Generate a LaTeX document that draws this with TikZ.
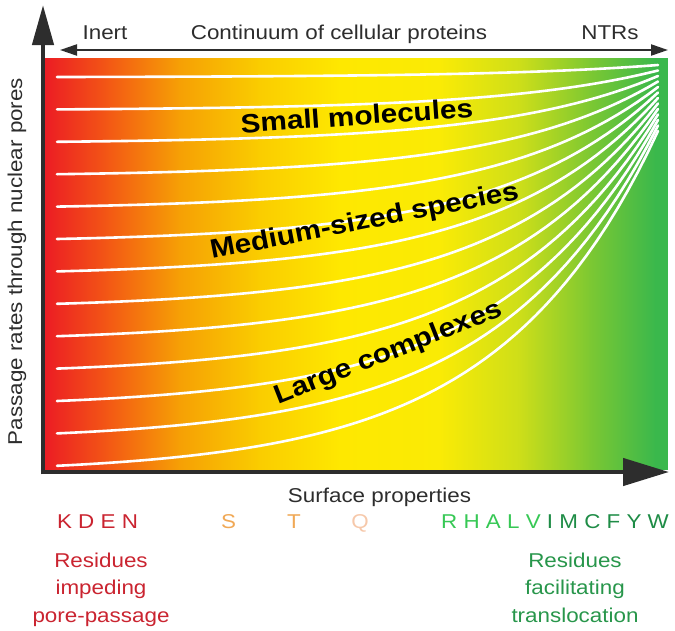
\documentclass[tikz,border=0pt]{standalone}
\usepackage{fontspec}
\setmainfont{Liberation Sans}[FakeStretch=1.12]
\usepackage{tikz}
\usetikzlibrary{arrows.meta, positioning}

% Farben
\definecolor{axisgray}{RGB}{45,45,45}
\definecolor{sh0}{RGB}{236,28,36}
\definecolor{sh1}{RGB}{243,90,20}
\definecolor{sh2}{RGB}{246,160,5}
\definecolor{sh3}{RGB}{250,205,0}
\definecolor{sh4}{RGB}{254,232,0}
\definecolor{sh5}{RGB}{250,235,5}
\definecolor{sh6}{RGB}{205,222,25}
\definecolor{sh7}{RGB}{125,200,50}
\definecolor{sh8}{RGB}{58,184,76}
\definecolor{impred}{RGB}{202,36,48}
\definecolor{polorange}{RGB}{240,168,85}
\definecolor{palequ}{RGB}{246,200,170}
\definecolor{hydgreen}{RGB}{55,200,85}
\definecolor{darkgreen}{RGB}{30,140,70}
\definecolor{facgreen}{RGB}{40,150,75}

\begin{document}
\begin{tikzpicture}[x=1pt, y=-1pt,
    axisline/.style={draw=axisgray, line width=4.5pt},
    flowline/.style={draw=white, line width=2.6pt, line cap=round},
    toplabel/.style={font=\fontsize{20}{24}\selectfont, text=axisgray, inner sep=0pt, anchor=base},
    sizelabel/.style={font=\fontsize{26.5}{30}\selectfont\bfseries, inner sep=0pt, anchor=base},
    reslabel/.style={font=\fontsize{20}{24}\selectfont, inner sep=0pt, anchor=base},
    resblock/.style={font=\fontsize{20}{27.5}\selectfont, inner sep=0pt, align=center, anchor=north}]
    \useasboundingbox (0,0) rectangle (675,630);

    % Farbverlauf
    \foreach \xa/\xb/\ca/\cb in {45/110/sh0/sh1, 110/180/sh1/sh2, 180/260/sh2/sh3,
        260/340/sh3/sh4, 340/440/sh4/sh5, 440/520/sh5/sh6, 520/590/sh6/sh7, 590/655/sh7/sh8}
        \shade[left color=\ca, right color=\cb] (\xa-0.5,58) rectangle (\xb+0.5,470);
    \fill[sh8] (655,58) rectangle (668,470);

    % weisse Linien
    \foreach \i in {0,...,12}{
        \pgfmathsetmacro{\ya}{77+32.4*\i}
        \pgfmathsetmacro{\yb}{65+5.5*\i}
        \draw[flowline, samples=60, domain=57:658]
            plot (\x, {\ya-(\ya-\yb)*(exp(3.8*(\x-57)/601)-1)/(exp(3.8)-1)});
    }

    % Achsen
    \coordinate (O) at (43,472);
    \coordinate (ytip) at (43,5);
    \coordinate (xtip) at (669,472);
    \coordinate (cl) at (60,50);
    \coordinate (cr) at (668,50);
    \draw[axisline, -{Triangle[length=40pt, width=21pt]}] (43,474.25) -- (ytip);
    \draw[axisline, -{Triangle[length=46pt, width=27pt]}] (O) ++(-2.25,0) -- (xtip);
    \draw[draw=axisgray, line width=2.2pt, {Triangle[length=17pt, width=11pt]}-{Triangle[length=17pt, width=11pt]}] (cl) -- (cr);

    % Beschriftung oben
    \node[toplabel] (inert) at (105,39) {Inert};
    \node[toplabel] (continuum) at (339,39) {Continuum of cellular proteins};
    \node[toplabel] (ntrs) at (610,39) {NTRs};
    \node[toplabel, rotate=90] (rates) at (22,261.5) {Passage rates through nuclear pores};
    \node[toplabel] (surface) at (379.5,502) {Surface properties};

    % Groessenklassen
    \node[sizelabel, rotate=4] (small) at (357.5,125) {Small molecules};
    \node[sizelabel, rotate=11] (medium) at (366,229) {Medium-sized species};
    \node[sizelabel, rotate=21.5] (large) at (391,360) {Large complexes};

    % Aminosaeuren
    \node[reslabel, text=impred] (kden) at (97.5,528) {K D E N};
    \node[reslabel, text=polorange] (ser) at (228.5,528) {S};
    \node[reslabel, text=polorange] (thr) at (294,528) {T};
    \node[reslabel, text=palequ] (gln) at (360,528) {Q};
    \node[reslabel] (hydro) at (555,528) {\textcolor{hydgreen}{R H A L V} \textcolor{darkgreen}{I M C F Y W}};
    \node[resblock, text=impred] (impede) at (101,552.5) {Residues\\impeding\\pore-passage};
    \node[resblock, text=facgreen] (facil) at (575,552.5) {Residues\\facilitating\\translocation};
\end{tikzpicture}
\end{document}
